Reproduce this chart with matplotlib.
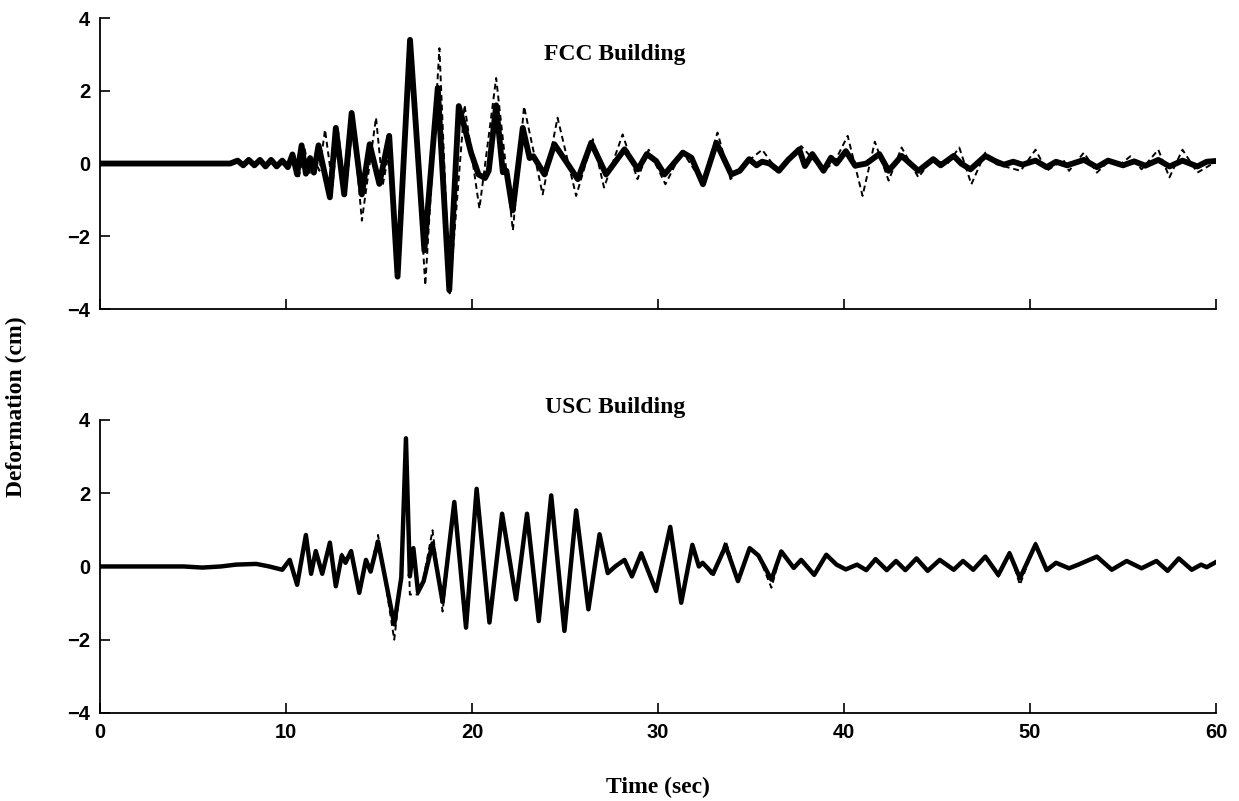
import matplotlib.pyplot as plt

# FCC building, solid (time in sec, deformation in cm)
fcc_t = [0, 7.0, 7.4, 7.7, 8.0, 8.3, 8.6, 8.9, 9.2, 9.5, 9.8, 10.1, 10.35, 10.6,
         10.84, 11.07, 11.3, 11.5, 11.75, 12.36, 12.68, 13.13, 13.53, 14.08, 14.5,
         15.02, 15.55, 16.0, 16.67, 17.44, 18.16, 18.78, 19.29, 19.6, 19.95, 20.35,
         20.7, 20.9, 21.3, 21.66, 21.85, 22.19, 22.73, 23.1, 23.3, 23.9, 24.43, 25.0,
         25.69, 26.41, 27.21, 28.2, 28.92, 29.4, 29.9, 30.35, 31.34, 31.8, 32.42,
         33.14, 33.94, 34.4, 34.9, 35.3, 35.6, 36.0, 36.5, 37.0, 37.6, 37.9, 38.3,
         38.9, 39.3, 39.6, 40.1, 40.6, 41.2, 41.9, 42.4, 43.1, 44.0, 44.8, 45.2,
         45.9, 46.3, 46.8, 47.6, 48.2, 48.6, 49.1, 49.6, 50.3, 50.9, 51.4, 52.0,
         52.9, 53.6, 54.2, 55.0, 55.6, 56.2, 56.9, 57.5, 58.2, 59.0, 59.5, 60]
fcc_y = [0, 0, 0.08, -0.05, 0.1, -0.05, 0.1, -0.08, 0.1, -0.08, 0.08, -0.1, 0.25, -0.3,
         0.5, -0.28, 0.15, -0.25, 0.5, -0.93, 0.98, -0.85, 1.39, -0.85, 0.53,
         -0.56, 0.76, -3.11, 3.4, -2.39, 2.08, -3.48, 1.58, 1.0, 0.3, -0.3,
         -0.4, -0.2, 1.6, -0.24, -0.2, -1.29, 0.98, 0.15, 0.2, -0.3, 0.53, 0.1,
         -0.43, 0.57, -0.3, 0.39, -0.16, 0.26, 0.07, -0.3, 0.3, 0.16, -0.57,
         0.57, -0.3, -0.2, 0.12, -0.05, 0.05, 0.0, -0.2, 0.1, 0.39, -0.07, 0.26,
         -0.2, 0.16, 0.0, 0.34, -0.06, 0.0, 0.26, -0.2, 0.21, -0.2, 0.12, -0.05,
         0.21, 0.0, -0.16, 0.21, 0.05, -0.03, 0.05, -0.03, 0.08, -0.1, 0.05, -0.05,
         0.1, -0.1, 0.08, -0.05, 0.06, -0.06, 0.1, -0.08, 0.08, -0.08, 0.05, 0.07]

# FCC building, dashed
fcc_dt = [0, 7.0, 7.4, 7.7, 8.0, 8.3, 8.6, 8.9, 9.2, 9.5, 9.8, 10.1, 10.4, 10.7,
          11.0, 11.3, 11.55, 11.8, 12.1, 12.5, 12.8, 13.2, 13.6, 14.08, 14.84,
          15.2, 15.6, 16.05, 16.7, 17.49, 18.25, 18.8, 19.6, 20.4, 21.3, 22.2,
          22.8, 23.8, 24.6, 25.6, 26.5, 27.1, 28.1, 28.9, 29.5, 30.4, 31.3, 32.4,
          33.2, 33.9, 34.7, 35.6, 36.5, 37.7, 38.9, 39.5, 40.2, 41.0, 41.66, 42.4,
          43.1, 44.0, 44.8, 45.5, 46.2, 46.85, 47.6, 48.2, 49.5, 50.3, 50.9, 51.8,
          52.1, 52.9, 53.6, 54.3, 54.8, 55.4, 56.0, 56.9, 57.5, 58.2, 59.0, 60]
fcc_dy = [0, 0, 0.08, -0.05, 0.1, -0.05, 0.1, -0.08, 0.1, -0.08, 0.08, -0.1, 0.2, -0.35,
          0.4, -0.3, 0.1, -0.2, 0.93, -0.6, 0.9, -0.9, 1.2, -1.57, 1.26,
          -0.6, 0.5, -3.0, 3.3, -3.35, 3.17, -3.57, 1.61, -1.24, 2.35, -1.84,
          1.57, -0.85, 1.26, -0.89, 0.67, -0.66, 0.8, -0.43, 0.38, -0.57, 0.34, -0.52,
          0.85, -0.43, 0.0, 0.38, -0.25, 0.48, -0.2, 0.05, 0.76, -0.89, 0.6, -0.47,
          0.44, -0.38, 0.16, -0.05, 0.44, -0.57, 0.3, -0.02, -0.2, 0.38, -0.2, 0.1,
          -0.2, 0.3, -0.25, 0.1, -0.05, 0.2, -0.16, 0.38, -0.38, 0.38, -0.25, 0.05]

# USC building, solid and dashed share the same time points
usc_t = [0, 4.5, 5.5, 6.5, 7.3, 8.4, 9.1, 9.8, 10.2, 10.6, 11.07, 11.35, 11.6, 11.95,
         12.36, 12.68, 13.0, 13.2, 13.5, 13.94, 14.3, 14.55, 14.95, 15.82, 16.2,
         16.45, 16.66, 16.85, 17.1, 17.4, 17.88, 18.42, 19.05, 19.68, 20.25, 20.94,
         21.62, 22.37, 22.96, 23.59, 24.26, 24.97, 25.6, 26.26, 26.86, 27.3, 27.7,
         28.2, 28.6, 29.1, 29.9, 30.66, 31.25, 31.85, 32.2, 32.4, 32.96, 33.64,
         34.3, 34.93, 35.4, 36.1, 36.63, 37.3, 37.7, 38.4, 39.05, 39.6, 40.1, 40.7,
         41.2, 41.7, 42.3, 42.8, 43.3, 43.9, 44.5, 45.15, 45.9, 46.4, 46.95, 47.6,
         48.3, 48.9, 49.46, 50.3, 50.9, 51.4, 52.1, 52.6, 53.6, 54.4, 55.2, 56.0,
         56.8, 57.4, 58.0, 58.7, 59.2, 59.5, 60]
usc_y = [0, 0, -0.03, 0, 0.05, 0.07, 0.0, -0.09, 0.18, -0.5, 0.86, -0.2, 0.42, -0.2,
         0.65, -0.54, 0.3, 0.1, 0.42, -0.72, 0.18, -0.14, 0.68, -1.58, -0.3,
         3.5, -0.27, 0.5, -0.7, -0.4, 0.63, -0.97, 1.76, -1.67, 2.12, -1.53,
         1.44, -0.9, 1.44, -1.49, 1.94, -1.76, 1.53, -1.17, 0.88, -0.18, 0.0,
         0.18, -0.27, 0.36, -0.67, 1.08, -0.99, 0.59, 0.0, 0.1, -0.2, 0.56,
         -0.4, 0.5, 0.3, -0.36, 0.41, -0.04, 0.18, -0.23, 0.32, 0.05, -0.08, 0.05,
         -0.1, 0.2, -0.1, 0.15, -0.1, 0.22, -0.12, 0.18, -0.09, 0.15, -0.09, 0.27,
         -0.23, 0.36, -0.32, 0.6, -0.1, 0.1, -0.05, 0.05, 0.27, -0.09, 0.15, -0.05,
         0.15, -0.12, 0.22, -0.09, 0.05, -0.02, 0.12]
usc_dy = [0, 0, -0.03, 0, 0.05, 0.06, 0.0, -0.09, 0.2, -0.5, 0.8, -0.2, 0.4, -0.2,
          0.55, -0.5, 0.35, 0.2, 0.45, -0.7, 0.2, -0.1, 0.86, -2.0, -0.3,
          3.3, -0.77, -0.75, -0.77, -0.3, 0.99, -1.23, 1.8, -1.65, 2.1, -1.5,
          1.42, -0.9, 1.42, -1.47, 1.92, -1.74, 1.5, -1.15, 0.85, -0.15, 0.0,
          0.2, -0.3, 0.35, -0.65, 1.05, -0.97, 0.6, 0.0, 0.1, -0.28, 0.7,
          -0.4, 0.5, 0.3, -0.58, 0.41, -0.04, 0.18, -0.23, 0.3, 0.05, -0.08, 0.05,
          -0.1, 0.2, -0.1, 0.15, -0.1, 0.22, -0.12, 0.18, -0.09, 0.15, -0.09, 0.27,
          -0.28, 0.4, -0.5, 0.65, -0.1, 0.1, -0.05, 0.05, 0.27, -0.09, 0.15, -0.05,
          0.15, -0.12, 0.22, -0.09, 0.05, -0.02, 0.12]

titles = ['FCC Building', 'USC Building']
yticks = [-4, -2, 0, 2, 4]
xticks = [0, 10, 20, 30, 40, 50, 60]

fig = plt.figure(figsize=(12.39, 8.01), dpi=100)
ax1 = fig.add_axes([0.0807, 0.6142, 0.9007, 0.3633])
ax2 = fig.add_axes([0.0807, 0.1099, 0.9007, 0.3658])

tickfont = {'family': 'Liberation Sans', 'weight': 'bold', 'size': 14.5}
serif = {'family': 'Liberation Serif', 'weight': 'bold', 'size': 17}

for ax in (ax1, ax2):
    ax.set_xlim(0, 60)
    ax.set_ylim(-4, 4)
    ax.spines['top'].set_visible(False)
    ax.spines['right'].set_visible(False)
    ax.spines['left'].set_linewidth(1.3)
    ax.spines['bottom'].set_linewidth(1.3)
    ax.set_xticks(xticks)
    ax.set_yticks(yticks)
    ax.tick_params(direction='in', length=7, width=1.2, pad=7)
    for lab in ax.get_yticklabels() + ax.get_xticklabels():
        lab.set_fontproperties(tickfont)

ax1.tick_params(labelbottom=False)

# dashed under the thick solid line
ax1.plot(fcc_dt, fcc_dy, color='black', lw=1.4, ls=(0, (3, 2)), zorder=2)
ax1.plot(fcc_t, fcc_y, color='black', lw=4.2, solid_joinstyle='round', zorder=3)
ax2.plot(usc_t, usc_dy, color='black', lw=1.4, ls=(0, (3, 2)), zorder=2)
ax2.plot(usc_t, usc_y, color='black', lw=3.2, solid_joinstyle='round', zorder=3)

ax1.text(27.7, 3.0, titles[0], ha='center', va='center', fontdict=serif)
ax2.text(27.7, 4.35, titles[1], ha='center', va='center', fontdict=serif, clip_on=False)

fig.text(0.013, 0.492, 'Deformation (cm)', rotation=90, ha='center', va='center',
         fontdict=serif)
fig.text(0.531, 0.0175, 'Time (sec)', ha='center', va='center', fontdict=serif)

fig.savefig('out.png', dpi=100)
